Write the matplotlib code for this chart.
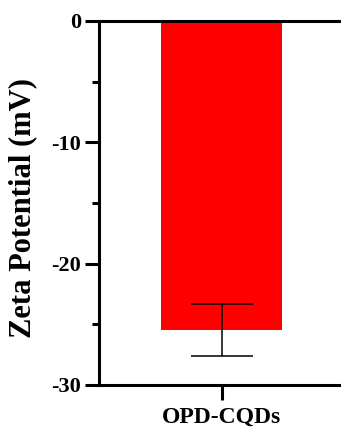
import matplotlib
matplotlib.use('Agg')
from matplotlib import pyplot as plt
from matplotlib.ticker import MultipleLocator

samples = ['OPD-CQDs']
zeta_mean = [-25.45]
zeta_err = [2.15]

plt.rcParams['font.family'] = ['Liberation Serif', 'DejaVu Serif']
plt.rcParams['font.weight'] = 'bold'
plt.rcParams['axes.unicode_minus'] = False

fig = plt.figure(figsize=(3.41, 4.32), dpi=100)
ax = fig.add_axes([0.290, 0.1088, 0.710, 0.8426])

ax.bar(range(len(samples)), zeta_mean, width=1.0, color='#ff0000', zorder=2)
ax.errorbar(range(len(samples)), zeta_mean, yerr=zeta_err, fmt='none',
            ecolor='black', elinewidth=1.1, capsize=22, capthick=1.1, zorder=3)

ax.set_xlim(-1.0165, 0.9835)
ax.set_ylim(-30, 0)
ax.yaxis.set_major_locator(MultipleLocator(10))
ax.yaxis.set_minor_locator(MultipleLocator(5))
ax.set_xticks(range(len(samples)))
ax.set_xticklabels(samples, fontsize=17, fontweight='bold')

for side in ['top', 'bottom', 'left']:
    ax.spines[side].set_linewidth(2.2)
ax.spines['right'].set_visible(False)

ax.tick_params(axis='y', which='major', length=10, width=2.2, labelsize=16, pad=3)
ax.tick_params(axis='y', which='minor', length=5, width=2.2)
ax.tick_params(axis='x', length=11, width=2.2, pad=5)
for lbl in ax.get_yticklabels():
    lbl.set_fontweight('bold')

ax.set_ylabel('Zeta Potential (mV)', fontsize=22, fontweight='bold')
ax.yaxis.set_label_coords(-0.255, 0.486)

plt.savefig('out.png', dpi=100)
